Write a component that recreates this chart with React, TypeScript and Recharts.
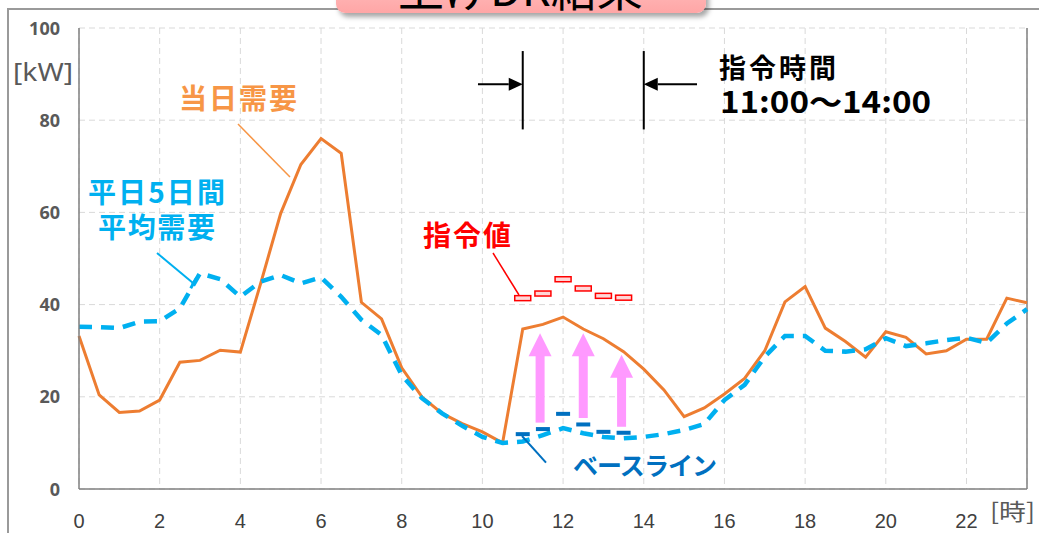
import { CartesianGrid, ComposedChart, Line, ReferenceLine, XAxis, YAxis } from "recharts";

// half-hour readings, 0:00 to 23:30
const hours = [
  0, 0.5, 1, 1.5, 2, 2.5, 3, 3.5, 4, 4.5, 5, 5.5, 6, 6.5, 7, 7.5, 8, 8.5, 9, 9.5, 10, 10.5, 11, 11.5,
  12, 12.5, 13, 13.5, 14, 14.5, 15, 15.5, 16, 16.5, 17, 17.5, 18, 18.5, 19, 19.5, 20, 20.5, 21, 21.5,
  22, 22.5, 23, 23.5,
];
const todayDemand = [
  33.2, 20.4, 16.6, 16.9, 19.3, 27.5, 27.9, 30.1, 29.7, 44.5, 59.8, 70.4, 76.0, 72.8, 40.5, 36.9, 26.3,
  20.0, 16.4, 14.2, 12.4, 10.0, 34.7, 35.7, 37.3, 34.7, 32.6, 29.8, 26.0, 21.5, 15.7, 17.6, 20.6, 24.0,
  30.0, 40.6, 43.9, 34.9, 32.0, 28.6, 34.1, 32.9, 29.3, 30.0, 32.5, 32.5, 41.4, 40.4,
];
const weekdayAverage = [
  35.2, 35.1, 34.9, 36.3, 36.4, 39.2, 46.8, 45.5, 41.7, 45.0, 46.4, 44.6, 45.9, 41.7, 36.7, 33.4, 24.7,
  19.7, 16.4, 13.7, 11.3, 10.0, 10.3, 11.7, 13.2, 12.1, 11.3, 11.0, 11.3, 11.9, 12.8, 14.1, 19.3, 22.6,
  28.7, 33.2, 33.2, 30.0, 29.8, 30.3, 32.7, 31.0, 31.6, 32.3, 32.8, 31.7, 35.9, 39.0,
];

// DR order period
const orderHours = [11, 11.5, 12, 12.5, 13, 13.5];
const orderValues = [41.4, 42.4, 45.5, 43.5, 41.9, 41.5];
const baselineValues = [11.9, 13.0, 16.3, 14.0, 12.4, 12.2];

// pink up-arrows (baseline -> demand)
const liftHours = [11.43, 12.5, 13.45];
const liftFrom = [14.4, 15.4, 13.5];
const liftTo = [33.8, 33.8, 29.1];

const periodStart = 11;
const periodEnd = 14;

const xTicks = [0, 2, 4, 6, 8, 10, 12, 14, 16, 18, 20, 22];
const yTicks = [0, 20, 40, 60, 80, 100];

const demandRows = hours.map((h, i) => ({ hour: h, today: todayDemand[i], average: weekdayAverage[i] }));
const orderRows = orderHours.map((h, i) => ({ hour: h, order: orderValues[i], baseline: baselineValues[i] }));

const JP = '"Noto Sans CJK JP", sans-serif';

const XTick = (p: any) => (
  <text x={p.x} y={528} textAnchor="middle" fontFamily="Liberation Sans" fontSize={20} fill="#404040">
    {p.payload.value}
  </text>
);

const YTick = (p: any) => (
  <text x={60} y={p.y + 6.5} textAnchor="end" fontFamily="Noto Sans" fontWeight={700} fontSize={18} fill="#595959">
    {p.payload.value}
  </text>
);

const OrderMark = (p: any) => (
  <rect key={`o${p.index}`} x={p.cx - 8} y={p.cy - 2.5} width={16} height={5} fill="#FFD6D6" stroke="#FF0000" strokeWidth={1.5} />
);

const BaselineMark = (p: any) => (
  <rect key={`b${p.index}`} x={p.cx - 7} y={p.cy - 2} width={14} height={4} fill="#0070C0" />
);

const PinkArrow = (p: any) => {
  const { x1, y1, x2, y2 } = p;
  const head = 23;
  const hw = 11.5;
  const sw = 4.5;
  return (
    <g>
      <rect x={x1 - sw} y={y2 + head - 1} width={sw * 2} height={y1 - y2 - head + 1} fill="#FF99FF" />
      <polygon points={`${x2},${y2} ${x2 - hw},${y2 + head} ${x2 + hw},${y2 + head}`} fill="#FF99FF" />
    </g>
  );
};

const BlackArrow = (p: any) => {
  const { x1, y1, x2, y2 } = p;
  const dir = Math.sign(x2 - x1);
  const L = 14;
  const W = 6.5;
  return (
    <g>
      <line x1={x1} y1={y1} x2={x2 - dir * L} y2={y2} stroke="#000" strokeWidth={2} />
      <polygon points={`${x2},${y2} ${x2 - dir * L},${y2 - W} ${x2 - dir * L},${y2 + W}`} fill="#000" />
    </g>
  );
};

export default function App() {
  return (
    <div style={{ position: "absolute", left: 0, top: 0, width: 1039, height: 533, overflow: "hidden", background: "#fff" }}>
      <div style={{ position: "absolute", left: 0, top: 0 }}>
        <ComposedChart width={1039} height={533} data={demandRows} margin={{ top: 28, right: 12, left: 0, bottom: 0 }}>
          <CartesianGrid stroke="#D9D9D9" strokeDasharray="6 4" />
          <XAxis
            dataKey="hour"
            type="number"
            domain={[0, 23.5]}
            ticks={xTicks}
            height={44}
            stroke="#808080"
            strokeWidth={1.5}
            tickLine={false}
            tick={XTick}
          />
          <YAxis
            type="number"
            domain={[0, 100]}
            ticks={yTicks}
            width={79}
            stroke="#808080"
            strokeWidth={1.5}
            tickLine={false}
            tick={YTick}
          />
          <ReferenceLine x={23.5} stroke="#808080" strokeWidth={1.5} />
          {liftHours.map((h, i) => (
            <ReferenceLine
              key={`lift${i}`}
              segment={[{ x: h, y: liftFrom[i] }, { x: h, y: liftTo[i] }]}
              shape={PinkArrow}
            />
          ))}
          <ReferenceLine segment={[{ x: periodStart, y: 78 }, { x: periodStart, y: 95 }]} stroke="#000" strokeWidth={2} />
          <ReferenceLine segment={[{ x: periodEnd, y: 78 }, { x: periodEnd, y: 95 }]} stroke="#000" strokeWidth={2} />
          <ReferenceLine segment={[{ x: 9.89, y: 87.8 }, { x: periodStart, y: 87.8 }]} shape={BlackArrow} />
          <ReferenceLine segment={[{ x: 15.32, y: 87.8 }, { x: periodEnd, y: 87.8 }]} shape={BlackArrow} />
          <Line dataKey="today" type="linear" stroke="#ED7D31" strokeWidth={3} dot={false} activeDot={false} isAnimationActive={false} />
          <Line
            dataKey="average"
            type="linear"
            stroke="#00B0F0"
            strokeWidth={4.5}
            strokeDasharray="13 9"
            dot={false}
            activeDot={false}
            isAnimationActive={false}
          />
          <Line data={orderRows} dataKey="baseline" stroke="none" dot={BaselineMark} activeDot={false} isAnimationActive={false} />
          <Line data={orderRows} dataKey="order" stroke="none" dot={OrderMark} activeDot={false} isAnimationActive={false} />
        </ComposedChart>
      </div>
      <div style={{ position: "absolute", left: 7, top: 8, width: 1200, height: 700, border: "2px solid #9a9a9a" }} />
      <div
        style={{
          position: "absolute",
          left: 336,
          top: -45,
          width: 370,
          height: 58,
          borderRadius: 9,
          background: "linear-gradient(#FFD0D0, #FFA6A6)",
          boxShadow: "3px 4px 5px rgba(0,0,0,0.35)",
        }}
      />
      <svg width={1039} height={533} style={{ position: "absolute", left: 0, top: 0, pointerEvents: "none" }}>
        <text x={398} y={6} fontFamily={JP} fontSize={46} fill="#000">上げDR結果</text>
        <text x={13} y={81} fontFamily="Noto Sans" fontSize={26} fill="#595959" textLength={60} lengthAdjust="spacingAndGlyphs">[kW]</text>
        <text x={990} y={520} fontFamily={JP} fontSize={23} fill="#595959" textLength={45} lengthAdjust="spacingAndGlyphs">[時]</text>

        <text x={179} y={108.5} fontFamily={JP} fontWeight={700} fontSize={28} fill="#F79646" textLength={118}>当日需要</text>
        <line x1={238} y1={124} x2={290} y2={177} stroke="#F79646" strokeWidth={1.5} />

        <text x={88} y={203} fontFamily={JP} fontWeight={700} fontSize={28} fill="#00B0F0" textLength={137}>平日5日間</text>
        <text x={98} y={238} fontFamily={JP} fontWeight={700} fontSize={28} fill="#00B0F0" textLength={117}>平均需要</text>
        <line x1={157} y1={253} x2={193} y2={283} stroke="#00B0F0" strokeWidth={2} />
        <line x1={196.7} y1={277.7} x2={190.7} y2={288.3} stroke="#00B0F0" strokeWidth={3} />

        <text x={423} y={246} fontFamily={JP} fontWeight={700} fontSize={28} fill="#FF0000" textLength={88}>指令値</text>
        <line x1={493} y1={253} x2={519} y2={295} stroke="#FF0000" strokeWidth={1.5} />

        <text x={719} y={78} fontFamily={JP} fontWeight={700} fontSize={27} fill="#000" textLength={117}>指令時間</text>
        <text x={720} y={113} fontFamily={JP} fontWeight={700} fontSize={30} fill="#000" textLength={211} lengthAdjust="spacingAndGlyphs">11:00～14:00</text>

        <text x={573} y={475} fontFamily={JP} fontWeight={700} fontSize={25} fill="#0070C0" textLength={144}>ベースライン</text>
        <line x1={522} y1={436} x2={546} y2={462.7} stroke="#0070C0" strokeWidth={2} />
      </svg>
    </div>
  );
}
